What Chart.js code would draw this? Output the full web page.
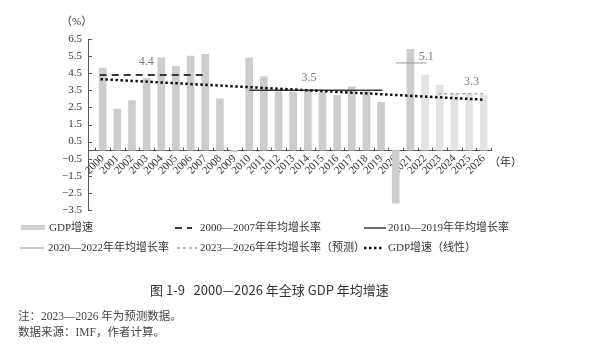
<!DOCTYPE html>
<html>
<head>
<meta charset="utf-8">
<script src="https://cdn.jsdelivr.net/npm/chart.js@4.4.1/dist/chart.umd.min.js"></script>
<style>
  body { margin: 0; background: #fff; }
  #wrap { position: relative; width: 608px; height: 357px; font-family: "Liberation Serif", "Noto Sans CJK SC", serif; color: #333; }
  #wrap canvas { position: absolute; left: 0; top: 0; }
  .txt { position: absolute; white-space: nowrap; line-height: 1; }
  .lg { position: absolute; font-size: 11px; white-space: nowrap; line-height: 1; color: #333; }
  .lg svg { position: absolute; }
</style>
</head>
<body>
<div id="wrap">
  <canvas id="myChart" width="608" height="357"></canvas>
  <div class="txt" style="left:61px;top:16px;font-size:11px;">（%）</div>
  <div class="txt" style="left:489px;top:157px;font-size:11px;">（年）</div>
  <div id="legend"></div>
  <div class="txt" style="left:150px;top:283px;font-size:13px;font-family:'Noto Sans CJK SC','Noto Sans',sans-serif;color:#333;">图 1-9&nbsp;&nbsp;&nbsp;2000—2026 年全球 GDP 年均增速</div>
  <div class="txt" style="left:18px;top:311px;font-size:11.5px;color:#444;">注：2023—2026 年为预测数据。</div>
  <div class="txt" style="left:18px;top:327px;font-size:11.5px;color:#444;">数据来源：IMF，作者计算。</div>
</div>
<script>
// years and GDP growth (%)
const years = [2000, 2001, 2002, 2003, 2004, 2005, 2006, 2007, 2008, 2009,
    2010, 2011, 2012, 2013, 2014, 2015, 2016, 2017, 2018, 2019,
    2020, 2021, 2022, 2023, 2024, 2025, 2026];
const gdpGrowth = [4.8, 2.4, 2.9, 4.2, 5.4, 4.9, 5.5, 5.6, 3.0, -0.1,
    5.4, 4.3, 3.5, 3.4, 3.5, 3.4, 3.2, 3.7, 3.5, 2.8,
    -3.1, 5.9, 4.4, 3.8, 3.3, 3.3, 3.2];
const firstForecastLike = 2022; // bars from this year are drawn lighter

// period averages
const avgNames = ['2000—2007年年均增长率', '2010—2019年年均增长率', '2020—2022年年均增长率', '2023—2026年年均增长率（预测）'];
const avgValues = [4.4, 3.5, 5.1, 3.3];
const avgStart = [1999.8, 2010.0, 2020.0, 2022.9];
const avgEnd = [2007.1, 2019.1, 2022.1, 2026.2];

// linear trend of GDP growth, read at both ends
const trendYears = [1999.85, 2026.0];
const trendValues = [4.15, 2.95];

const yTicks = { min: -3.5, max: 6.5, step: 1 };

const avgStyles = [
    { color: '#3a3a3a', width: 2, dash: [7, 5] },
    { color: '#3a3a3a', width: 1.5, dash: [] },
    { color: '#9a9a9a', width: 1, dash: [] },
    { color: '#a8a8a8', width: 1.5, dash: [3, 3] }
];
// where the little value labels sit relative to each average line (px)
const avgLabelOffset = [[-7, -13], [-7, -12], [15, -6], [9, -12]];

const ctx = document.getElementById('myChart').getContext('2d');

const datasets = [{
    type: 'bar',
    label: 'GDP增速',
    data: years.map((yr, i) => ({ x: yr, y: gdpGrowth[i] })),
    backgroundColor: years.map(yr => yr >= firstForecastLike ? '#e3e3e3' : '#cdcdcd'),
    barThickness: 7,
    order: 2
}];

avgValues.forEach((v, i) => {
    datasets.push({
        type: 'line',
        label: avgNames[i],
        data: [{ x: avgStart[i], y: v }, { x: avgEnd[i], y: v }],
        borderColor: avgStyles[i].color,
        borderWidth: avgStyles[i].width,
        borderDash: avgStyles[i].dash,
        pointRadius: 0,
        order: 1
    });
});

datasets.push({
    type: 'line',
    label: 'GDP增速（线性）',
    data: trendYears.map((yr, i) => ({ x: yr, y: trendValues[i] })),
    borderColor: '#111',
    borderWidth: 2.5,
    borderDash: [2.5, 2.5],
    borderCapStyle: 'butt',
    pointRadius: 0,
    order: 0
});

const extras = {
    id: 'extras',
    afterDraw(chart) {
        const { ctx, scales: { x, y } } = chart;
        ctx.save();
        ctx.strokeStyle = '#555';
        ctx.lineWidth = 1;
        ctx.beginPath();
        // inward ticks on the y axis
        y.ticks.forEach(t => {
            const py = Math.round(y.getPixelForValue(t.value)) + 0.5;
            ctx.moveTo(x.left, py);
            ctx.lineTo(x.left + 4, py);
        });
        // ticks between years on the x axis
        const y0 = Math.round(y.getPixelForValue(0)) + 0.5;
        for (let v = years[0] - 0.5; v <= years[years.length - 1] + 0.5; v++) {
            const px = Math.round(x.getPixelForValue(v)) + 0.5;
            ctx.moveTo(px, y0);
            ctx.lineTo(px, y0 - 3);
        }
        ctx.stroke();

        // average value labels
        ctx.fillStyle = '#7a7a7a';
        ctx.font = '12px "Liberation Serif", serif';
        ctx.textAlign = 'center';
        ctx.textBaseline = 'middle';
        avgValues.forEach((v, i) => {
            const px = x.getPixelForValue((avgStart[i] + avgEnd[i]) / 2) + avgLabelOffset[i][0];
            const py = y.getPixelForValue(v) + avgLabelOffset[i][1];
            ctx.fillText(v.toFixed(1), px, py);
        });
        ctx.restore();
    }
};

const chart = new Chart(ctx, {
    data: { datasets: datasets },
    options: {
        responsive: false,
        animation: false,
        layout: { padding: { left: 28, right: 117, top: 39, bottom: 147 } },
        plugins: { legend: { display: false }, tooltip: { enabled: false } },
        scales: {
            x: {
                type: 'linear',
                offset: false,
                position: { y: 0 },
                min: years[0] - 1,
                max: years[years.length - 1] + 0.5,
                grid: { display: false, drawTicks: false },
                border: { display: true, color: '#555', width: 1 },
                afterBuildTicks: s => {
                    s.ticks = years.map(v => ({ value: v }));
                },
                afterFit: s => {
                    s.paddingLeft = 0;
                    s.paddingRight = 0;
                },
                ticks: {
                    autoSkip: false,
                    minRotation: 45,
                    maxRotation: 45,
                    padding: 2,
                    color: '#333',
                    font: { family: '"Liberation Serif", serif', size: 11 },
                    callback: v => String(v)
                }
            },
            y: {
                min: yTicks.min,
                max: yTicks.max,
                afterFit: s => { s.width = 60; },
                grid: { display: false, drawTicks: false },
                border: { display: true, color: '#555', width: 1 },
                ticks: {
                    stepSize: yTicks.step,
                    padding: 6,
                    color: '#333',
                    font: { family: '"Liberation Serif", serif', size: 11 },
                    callback: v => v.toFixed(1).replace('-', '−')
                }
            }
        }
    },
    plugins: [extras]
});

// legend built from the chart's own datasets
function swatch(ds, w) {
    if (ds.type === 'bar') {
        return '<svg width="' + w + '" height="8"><rect x="0" y="1" width="' + w + '" height="5" fill="#d2d2d2"/></svg>';
    }
    const dash = (ds.borderDash || []).join(',');
    return '<svg width="' + w + '" height="8"><line x1="0" y1="4" x2="' + w + '" y2="4" stroke="' + ds.borderColor +
        '" stroke-width="' + ds.borderWidth + '"' + (dash ? ' stroke-dasharray="' + dash + '"' : '') + '/></svg>';
}
const legendSlots = [
    { sx: 21, sw: 24, tx: 49, ty: 222 },
    { sx: 175, sw: 17, tx: 200, ty: 222 },
    { sx: 364, sw: 22, tx: 388, ty: 222 },
    { sx: 20, sw: 24, tx: 48, ty: 242 },
    { sx: 177, sw: 20, tx: 200, ty: 242 },
    { sx: 364, sw: 20, tx: 388, ty: 242 }
];
let html = '';
datasets.forEach((ds, i) => {
    const s = legendSlots[i];
    html += '<div class="lg" style="left:' + s.sx + 'px;top:' + (s.ty + 2) + 'px;">' + swatch(ds, s.sw) + '</div>';
    html += '<div class="lg" style="left:' + s.tx + 'px;top:' + s.ty + 'px;">' + ds.label + '</div>';
});
document.getElementById('legend').innerHTML = html;
</script>
</body>
</html>
